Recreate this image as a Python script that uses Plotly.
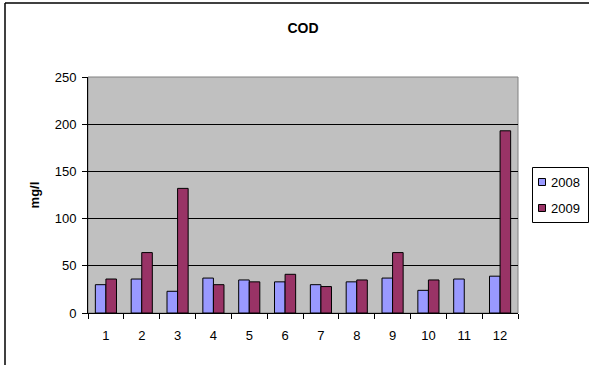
import plotly.graph_objects as go

months = ["1", "2", "3", "4", "5", "6", "7", "8", "9", "10", "11", "12"]
cod_2008 = [30, 36, 23, 37, 35, 33, 30, 33, 37, 24, 36, 39]
cod_2009 = [36, 64, 132, 30, 33, 41, 28, 35, 64, 35, None, 193]
series_names = ["2008", "2009"]
series_colors = ["#9999FF", "#993366"]
y_ticks = [0, 50, 100, 150, 200, 250]

FONT = "Liberation Sans, Arial, sans-serif"

fig = go.Figure()
for name, vals, col in zip(series_names, [cod_2008, cod_2009], series_colors):
    fig.add_trace(go.Bar(x=months, y=vals, name=name, hoverinfo="skip",
                         marker=dict(color=col, line=dict(color="black", width=1))))

W, H = 589, 365
L, R, T, B = 88, 71, 77, 52
pw, ph = W - L - R, H - T - B

def px_x(x):
    return (x - L) / pw

def px_y(y):
    return (H - B - y) / ph

shapes = [
    dict(type="rect", xref="paper", yref="paper", x0=0, x1=1, y0=0, y1=1,
         line=dict(color="#808080", width=1), layer="below"),
    dict(type="line", xref="paper", yref="paper", x0=px_x(5), x1=px_x(5),
         y0=px_y(3), y1=px_y(365), line=dict(color="black", width=1.5)),
    dict(type="line", xref="paper", yref="paper", x0=px_x(5), x1=px_x(589),
         y0=px_y(3), y1=px_y(3), line=dict(color="black", width=1.5)),
    # legend box
    dict(type="rect", xref="paper", yref="paper", x0=px_x(532.5), x1=px_x(588.5),
         y0=px_y(222.5), y1=px_y(167.5), line=dict(color="black", width=1),
         fillcolor="white"),
]
annotations = []
legend_rows_y = [182, 208]
for name, col, yy in zip(series_names, series_colors, legend_rows_y):
    shapes.append(dict(type="rect", xref="paper", yref="paper",
                       x0=px_x(538.5), x1=px_x(545.5), y0=px_y(yy + 3.5), y1=px_y(yy - 3.5),
                       line=dict(color="black", width=1), fillcolor=col))
    annotations.append(dict(text=name, xref="paper", yref="paper", x=px_x(549), y=px_y(yy),
                            xanchor="left", yanchor="middle", showarrow=False,
                            font=dict(family=FONT, size=13, color="black")))

fig.update_layout(
    width=W, height=H,
    margin=dict(l=L, r=R, t=T, b=B, autoexpand=False),
    paper_bgcolor="white",
    plot_bgcolor="#C0C0C0",
    font=dict(family=FONT, size=13, color="black"),
    barmode="group",
    bargap=0.41,
    bargroupgap=0,
    showlegend=False,
    hovermode=False,
    title=dict(text="<b>COD</b>", x=px_x(303), xref="paper", xanchor="center",
               y=1 - 28 / H, yref="container", yanchor="middle",
               font=dict(family=FONT, size=14)),
    xaxis=dict(type="category", tickson="boundaries", ticks="outside", ticklen=5,
               tickcolor="black", showline=True, linecolor="black", linewidth=1,
               showgrid=False, tickfont=dict(size=13), ticklabelstandoff=10),
    yaxis=dict(range=[0, 250], tickvals=y_ticks, ticks="outside", ticklen=5,
               tickcolor="black", showline=True, linecolor="black", linewidth=1,
               showgrid=True, gridcolor="black", gridwidth=1, zeroline=False,
               tickfont=dict(size=13), ticklabelstandoff=3,
               title=dict(text="<b>mg/l</b>", standoff=12, font=dict(size=13))),
    shapes=shapes,
    annotations=annotations,
)

fig.write_html("out.html", config={"displayModeBar": False, "staticPlot": True},
               post_script="document.body.style.margin='0';document.body.style.overflow='hidden';")
